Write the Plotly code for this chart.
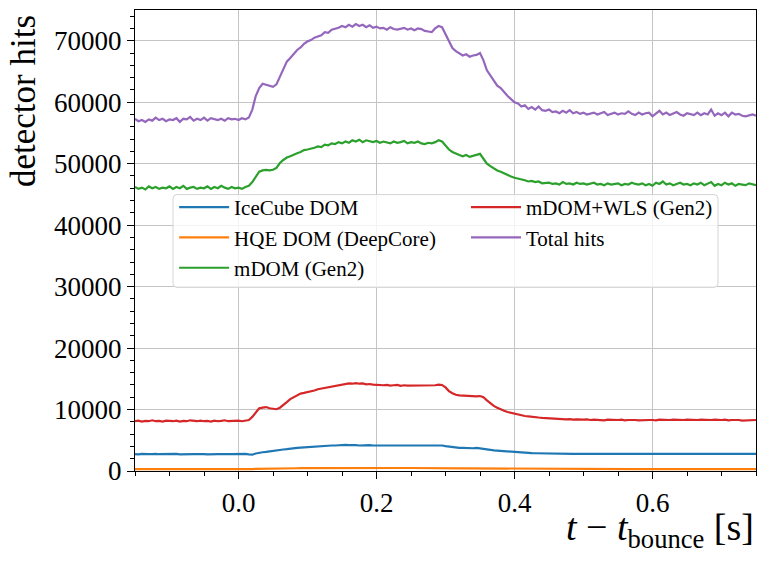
import numpy as np
import plotly.graph_objects as go

# time grid (s), 5 ms bins from -0.15 to 0.75
t = np.round(np.arange(-0.15, 0.75 + 1e-9, 0.005), 3)

total_hits = [
    57300, 56900, 57100, 56800, 57200, 57000, 57500, 57100, 57300, 56900,
    57200, 57100, 57400, 56800, 57300, 57200, 57600, 57000, 57300, 57100,
    57500, 57000, 57400, 57200, 57100, 57300, 57000, 57400, 57200, 57300,
    57100, 57400, 57200, 57500, 58800, 61000, 62300, 63000, 62800, 62600,
    62500, 62900, 64200, 65600, 66600, 67200, 67800, 68500, 68900, 69500,
    69900, 70100, 70500, 70700, 70900, 71400, 71300, 71800, 71900, 72100,
    72400, 72200, 72600, 72300, 72700, 72400, 72600, 72200, 72500, 72100,
    72300, 72000, 72100, 71800, 72200, 71900, 71800, 72000, 72100, 71800,
    72000, 71700, 72000, 71900, 71600, 71500, 71400, 72000, 72400, 72200,
    71000, 69800, 68800, 68300, 67900, 67600, 67800, 67400, 67600, 67700,
    68000, 66800, 65200, 64300, 63500, 62700, 62300, 61600, 61000, 60500,
    60000, 59800, 59300, 59500, 58900, 59200, 58800, 59300, 58700, 58600,
    58800, 58400, 58500, 58200, 58600, 58300, 58700, 58200, 58400, 58100,
    58300, 58000, 58200, 58300, 58000, 58200, 58400, 57900, 58100, 58300,
    58000, 58200, 58100, 58500, 58100, 57900, 58300, 58000, 58200, 58300,
    57700, 58200, 58600, 58000, 58300, 57900, 58100, 58400, 58000, 57800,
    58200, 58000, 57900, 58300, 57900, 58200, 58000, 58800, 57800, 58200,
    57900, 58300, 57700, 58300, 58000, 58100, 57800, 57700, 57900, 58000,
    57800,
]

mdom = [
    46200, 45900, 46100, 45800, 46300, 46000, 46200, 45900, 46100, 46000,
    46300, 45900, 46200, 46000, 46400, 45900, 46100, 46200, 45900, 46100,
    46000, 46300, 45900, 46200, 46000, 46400, 46100, 45900, 46200, 46000,
    46100, 45900, 46200, 46400, 47000, 47800, 48700, 48900, 49000, 48900,
    49000, 49300, 50100, 50600, 51000, 51200, 51500, 51700, 51900, 52200,
    52300, 52400, 52600, 52800, 52700, 53100, 53000, 53300, 53200, 53500,
    53300, 53600, 53400, 53800, 53600, 53900, 53500, 53800, 53700, 53500,
    53700, 53400, 53600, 53500, 53300, 53600, 53400, 53500, 53700, 53300,
    53500, 53400, 53600, 53300, 53200, 53400, 53300, 53500, 53800, 53600,
    53000, 52300, 51900, 51600, 51400, 51200, 51400, 51100, 51300, 51500,
    51600, 50800, 50000, 49600, 49200, 48900, 48700, 48400, 48100, 47900,
    47700, 47600, 47400, 47300, 47100, 47200, 47000, 47100, 46800, 46900,
    46900, 46700, 46800, 46600, 47000, 46700, 46800, 46600, 46900, 46700,
    46800, 46600, 46700, 46900, 46600, 46700, 46500, 46800, 46600, 46700,
    46800, 46500, 46700, 46600, 46900, 46700, 46600, 46800, 46500, 46700,
    46400, 46900, 46700, 47100, 46600, 46800, 46500, 46700, 46900, 46600,
    46700, 46500, 46800, 46600, 46900, 46500, 46700, 47000, 46400, 46700,
    46500, 46900, 46600, 46800, 46400, 46700, 46600, 46500, 46800, 46700,
    46500,
]

mdom_wls = [
    8100, 8200, 8050, 8150, 8100, 8250, 8100, 8150, 8050, 8200,
    8150, 8100, 8200, 8050, 8150, 8100, 8250, 8150, 8100, 8200,
    8100, 8150, 8050, 8200, 8100, 8150, 8250, 8100, 8150, 8100,
    8200, 8100, 8150, 8300, 8800, 9600, 10200, 10300, 10400, 10200,
    10100, 10050, 10300, 10700, 11200, 11700, 12000, 12300, 12600, 12700,
    12800, 13000, 13100, 13300, 13400, 13600, 13700, 13800, 13900, 14000,
    14100, 14150, 14250, 14200, 14300, 14200, 14250, 14100, 14150, 14050,
    14000, 14050, 13950, 14000, 13900, 13950, 14000, 13850, 13950, 13900,
    13900, 13850, 13950, 13900, 13850, 13950, 13900, 13950, 14050, 14000,
    13600, 13000, 12650, 12400, 12300, 12250, 12200, 12250, 12200, 12150,
    12200, 12000, 11500, 11000, 10600, 10300, 10000, 9800, 9600, 9450,
    9300, 9150, 9050, 8950, 8900, 8800, 8750, 8700, 8650, 8600,
    8600, 8550, 8500, 8500, 8450, 8400, 8450, 8350, 8400, 8350,
    8350, 8400, 8300, 8350, 8300, 8350, 8250, 8350, 8300, 8300,
    8300, 8350, 8250, 8300, 8350, 8300, 8250, 8300, 8350, 8300,
    8300, 8250, 8350, 8300, 8250, 8300, 8350, 8300, 8250, 8300,
    8350, 8300, 8250, 8300, 8350, 8300, 8250, 8300, 8350, 8300,
    8300, 8350, 8250, 8300, 8350, 8300, 8200, 8250, 8300, 8250,
    8300,
]

icecube = [
    2750, 2700, 2780, 2720, 2760, 2740, 2800, 2730, 2760, 2710,
    2760, 2740, 2790, 2720, 2750, 2770, 2730, 2760, 2740, 2780,
    2750, 2720, 2770, 2740, 2760, 2730, 2780, 2750, 2740, 2770,
    2760, 2740, 2780, 2700, 2650, 2850, 3000, 3050, 3100, 3200,
    3300, 3350, 3400, 3500, 3550, 3650, 3700, 3750, 3800, 3850,
    3900, 3950, 4000, 4000, 4050, 4100, 4100, 4150, 4150, 4200,
    4200, 4250, 4200, 4250, 4200, 4150, 4200, 4250, 4200, 4150,
    4150, 4200, 4150, 4100, 4150, 4150, 4100, 4150, 4200, 4150,
    4150, 4100, 4150, 4150, 4100, 4150, 4150, 4100, 4200, 4150,
    4050, 3950, 3850, 3800, 3750, 3750, 3700, 3750, 3700, 3750,
    3700, 3650, 3550, 3450, 3350, 3300, 3250, 3200, 3150, 3100,
    3050, 3000, 2980, 2950, 2930, 2900, 2890, 2870, 2860, 2850,
    2840, 2830, 2820, 2800, 2820, 2790, 2810, 2780, 2800, 2790,
    2800, 2780, 2810, 2790, 2800, 2770, 2810, 2790, 2780, 2800,
    2790, 2810, 2780, 2800, 2790, 2770, 2810, 2790, 2800, 2780,
    2790, 2810, 2780, 2800, 2760, 2790, 2810, 2780, 2800, 2790,
    2780, 2800, 2790, 2810, 2770, 2800, 2790, 2780, 2810, 2790,
    2800, 2780, 2790, 2810, 2780, 2790, 2800, 2770, 2790, 2800,
    2790,
]

hqe = [
    300, 290, 310, 295, 305, 300, 290, 310, 300, 295,
    305, 300, 290, 310, 300, 295, 305, 300, 290, 310,
    300, 295, 305, 300, 290, 310, 300, 295, 305, 300,
    300, 310, 295, 300, 310, 330, 350, 360, 370, 380,
    390, 400, 410, 420, 430, 440, 445, 450, 455, 460,
    465, 470, 475, 480, 480, 485, 490, 490, 495, 495,
    500, 495, 500, 505, 500, 495, 500, 505, 500, 495,
    500, 495, 490, 495, 490, 495, 490, 485, 490, 485,
    485, 490, 480, 485, 480, 485, 480, 475, 480, 475,
    470, 460, 455, 450, 445, 440, 440, 435, 435, 430,
    425, 420, 410, 400, 390, 380, 370, 365, 360, 355,
    350, 345, 340, 340, 335, 330, 330, 325, 325, 320,
    320, 320, 315, 315, 320, 315, 310, 315, 310, 315,
    310, 315, 310, 305, 310, 315, 310, 305, 310, 305,
    310, 305, 310, 305, 300, 310, 305, 310, 305, 300,
    305, 310, 300, 305, 310, 305, 300, 305, 310, 305,
    300, 305, 310, 305, 300, 305, 310, 300, 305, 310,
    305, 300, 305, 310, 300, 305, 300, 305, 310, 300,
    305,
]

series_names = ["IceCube DOM", "HQE DOM (DeepCore)", "mDOM (Gen2)",
                "mDOM+WLS (Gen2)", "Total hits"]
series_values = [icecube, hqe, mdom, mdom_wls, total_hits]
series_colors = ["#1f77b4", "#ff7f0e", "#2ca02c", "#d62728", "#9467bd"]
series_legend = ["legend", "legend", "legend", "legend2", "legend2"]

y_ticks = [0, 10000, 20000, 30000, 40000, 50000, 60000, 70000]
x_ticks = [0.0, 0.2, 0.4, 0.6]

FONT = "Liberation Serif, Times New Roman, serif"

fig = go.Figure()
for i, (name, vals, col, lg) in enumerate(zip(series_names, series_values,
                                                series_colors, series_legend)):
    assert len(vals) == len(t), (name, len(vals))
    fig.add_trace(go.Scatter(
        x=t, y=vals, mode="lines", name=name,
        line=dict(color=col, width=2.2),
        legend=lg, legendgroup=f"g{i}",
    ))

axis_common = dict(
    showline=True, linecolor="black", linewidth=1.3, mirror=True,
    ticks="outside", ticklen=7, tickwidth=1.2, tickcolor="black",
    showgrid=True, gridcolor="#c4c4c4", gridwidth=1,
    zeroline=False,
    tickfont=dict(family=FONT, size=27, color="black"),
)

fig.update_xaxes(
    range=[-0.15, 0.75], tickvals=x_ticks, tickformat=".1f",
    minor=dict(dtick=0.05, tick0=0, ticks="outside", ticklen=4,
               tickcolor="black", showgrid=False),
    **axis_common,
)
fig.update_yaxes(
    range=[0, 75000], tickvals=y_ticks, tickformat="d",
    minor=dict(dtick=2000, tick0=0, ticks="outside", ticklen=4,
               tickcolor="black", showgrid=False),
    **axis_common,
)

# legend frame (rounded rectangle)
x0, x1 = (173 - 135) / 621, (718 - 135) / 621
y1, y0 = (471 - 194) / 462, (471 - 287) / 462
rx, ry = 4 / 621, 4 / 462
path = (f"M{x0+rx},{y0} L{x1-rx},{y0} Q{x1},{y0} {x1},{y0+ry} "
        f"L{x1},{y1-ry} Q{x1},{y1} {x1-rx},{y1} L{x0+rx},{y1} "
        f"Q{x0},{y1} {x0},{y1-ry} L{x0},{y0+ry} Q{x0},{y0} {x0+rx},{y0} Z")
fig.add_shape(type="path", path=path, xref="paper", yref="paper",
              fillcolor="rgba(255,255,255,0.8)",
              line=dict(color="#d4d4d4", width=1), layer="above")

legend_common = dict(
    bgcolor="rgba(0,0,0,0)", borderwidth=0,
    font=dict(family=FONT, size=21, color="black"),
    itemwidth=50, tracegroupgap=0, yanchor="top", xanchor="left",
    orientation="v",
)

fig.update_layout(
    width=766, height=565,
    margin=dict(l=135, r=10, t=10, b=94),
    plot_bgcolor="white", paper_bgcolor="white",
    font=dict(family=FONT, color="black"),
    showlegend=True,
    legend=dict(x=0.063, y=0.616, **legend_common),
    legend2=dict(x=0.533, y=0.616, **legend_common),
    annotations=[
        dict(text="detector hits", textangle=-90, xref="paper", yref="paper",
             x=(24 - 135) / 621, y=(471 - 12) / 462, xanchor="center",
             yanchor="top", showarrow=False,
             font=dict(family=FONT, size=35, color="black")),
        dict(text="<i>t</i> − <i>t</i><sub>bounce</sub> [s]",
             xref="paper", yref="paper", x=1.0, y=(471 - 530) / 462,
             xanchor="right", yanchor="middle", showarrow=False,
             font=dict(family=FONT, size=38, color="black")),
    ],
)

fig.write_html("out.html")
